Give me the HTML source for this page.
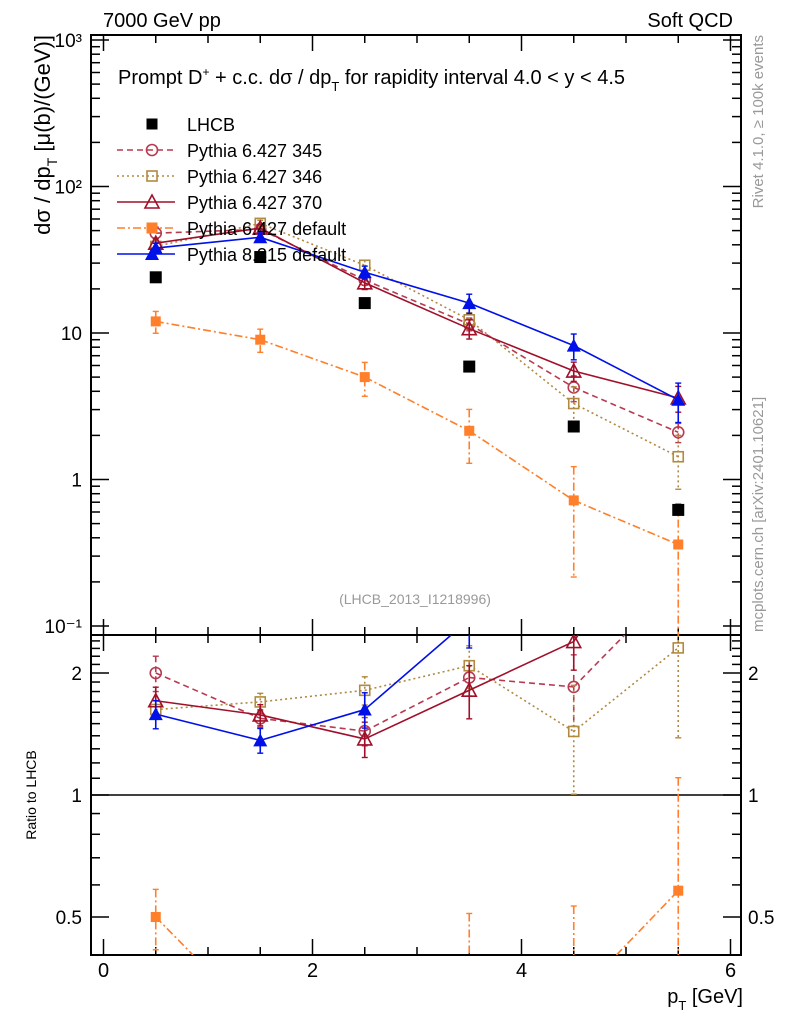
<!DOCTYPE html>
<html><head><meta charset="utf-8">
<style>
html,body{margin:0;padding:0;background:#fff;overflow:hidden;width:786px;height:1024px;}
svg{display:block;font-family:"Liberation Sans",sans-serif;}
</style></head>
<body>
<svg id="chart" width="786" height="1024" viewBox="0 0 786 1024" xmlns="http://www.w3.org/2000/svg">
  <defs>
    <clipPath id="clipMain"><rect x="91" y="35" width="650" height="600"/></clipPath>
    <clipPath id="clipRatio"><rect x="91" y="635" width="650" height="320"/></clipPath>
  </defs>
  <text x="103" y="27" font-size="20">7000 GeV pp</text>
  <text x="733" y="27" font-size="20" text-anchor="end">Soft QCD</text>
  <text x="118" y="84" font-size="20">Prompt D<tspan dy="-8" font-size="12">+</tspan><tspan dy="8"> + c.c.  dσ / dp</tspan><tspan dy="7" font-size="13">T</tspan><tspan dy="-7"> for rapidity interval 4.0 &lt; y &lt; 4.5</tspan></text>
  <text transform="translate(50,35) rotate(-90)" x="0" y="0" font-size="22" text-anchor="end">dσ / dp<tspan dy="7" font-size="14">T</tspan><tspan dy="-7"> [μ(b)/(GeV)]</tspan></text>
  <text transform="translate(36,795) rotate(-90)" font-size="14" text-anchor="middle">Ratio to LHCB</text>
  <text x="743" y="1003" font-size="20" text-anchor="end">p<tspan dy="7" font-size="13">T</tspan><tspan dy="-7"> [GeV]</tspan></text>
  <text transform="translate(763,35) rotate(-90)" font-size="15" fill="#999" text-anchor="end">Rivet 4.1.0, ≥ 100k events</text>
  <text transform="translate(763,632) rotate(-90)" font-size="15" fill="#999">mcplots.cern.ch [arXiv:2401.10621]</text>
  <text x="415" y="604" font-size="14" fill="#999" text-anchor="middle">(LHCB_2013_I1218996)</text>
  <g id="axes"></g>
  <g id="mainSeries" clip-path="url(#clipMain)"></g>
  <g id="ratioSeries" clip-path="url(#clipRatio)"></g>
  <g id="legend"></g>
</svg>
<script>
const pt = [0.5, 1.5, 2.5, 3.5, 4.5, 5.5];
const lhcb = [24, 33, 16, 5.9, 2.3, 0.62];
const p345 = [48, 51, 23, 11.5, 4.25, 2.1];
const p346 = [39, 56, 29, 12.3, 3.3, 1.43];
const p370 = [41, 52, 22, 10.7, 5.5, 3.6];
const pdef = [12, 9.0, 5.0, 2.15, 0.72, 0.36];
const p8 = [38, 45, 26, 16, 8.2, 3.5];
const relErr345 = [0.1, 0.05, 0.08, 0.1, 0.2, 0.15];
const relErr346 = [0.05, 0.05, 0.08, 0.12, 0.3, 0.4];
const relErr370 = [0.08, 0.06, 0.1, 0.15, 0.15, 0.2];
const relErrDef = [0.17, 0.18, 0.26, 0.4, 0.7, 0.9];
const relErr8 = [0.08, 0.07, 0.1, 0.15, 0.2, 0.3];
const mainTicks = ["10⁻¹", "1", "10", "10²", "10³"];
const ratioTicks = ["0.5", "1", "2"];
const xTicks = ["0", "2", "4", "6"];

const NS = "http://www.w3.org/2000/svg";
const X0 = 91, X1 = 741, MT = 35, MB = 635, RB = 955;
const xs = v => 103.5 + v * 104.5;
const clamp = (y, a, b) => Math.min(b, Math.max(a, y));
const ym = v => clamp(479.5 - 146.5 * Math.log10(v), MT - 20, MB + 20);
const yr = v => clamp(795 - 122 * Math.log2(v), MB - 20, RB + 20);
function mk(tag, at, parent) { const e = document.createElementNS(NS, tag); for (const k in at) e.setAttribute(k, at[k]); parent.appendChild(e); return e; }
const axes = document.getElementById('axes');
let f1 = mk('rect', {x: X0, y: MT, width: X1 - X0, height: MB - MT, fill: 'none', stroke: '#000', 'stroke-width': 2}, axes);


let f2 = mk('rect', {x: X0, y: MB, width: X1 - X0, height: RB - MB, fill: 'none', stroke: '#000', 'stroke-width': 2}, axes);


let ul = mk('line', {x1: X0, x2: X1, y1: yr(1), y2: yr(1), stroke: '#000', 'stroke-width': 1.5}, axes);


for (let v = 0; v <= 6.01; v += 0.5) {
  const major = Math.abs(v - Math.round(v / 2) * 2) < 1e-6;
  const L = major ? 16 : 8, x = xs(v);
  [[MT, 1], [MB, -1], [MB, 1], [RB, -1]].forEach(([y, d]) => mk('line', {x1: x, x2: x, y1: y, y2: y + d * L, stroke: '#000', 'stroke-width': 1.5}, axes));
}
xTicks.forEach(t => { const e = mk('text', {x: xs(+t), y: 977, 'font-size': 20, 'text-anchor': 'middle'}, axes); e.textContent = t;
  
   });
for (let d = -1; d <= 3; d++) {
  for (let m = 1; m <= 9; m++) {
    const v = m * Math.pow(10, d); if (v > 1000) break;
    const y = ym(v), L = m === 1 ? 18 : 9;
    mk('line', {x1: X0, x2: X0 + L, y1: y, y2: y, stroke: '#000', 'stroke-width': 1.5}, axes);
    mk('line', {x1: X1, x2: X1 - L, y1: y, y2: y, stroke: '#000', 'stroke-width': 1.5}, axes);
  }
}
mainTicks.forEach((t, i) => { const e = mk('text', {x: 82, y: ym(Math.pow(10, i - 1)) + 7, 'font-size': 19, 'text-anchor': 'end'}, axes); e.textContent = t;
  
   });
for (let v = 0.4; v <= 2.45; v += 0.1) {
  const y = 795 - 122 * Math.log2(v); if (y < MB || y > RB) continue;
  const major = [0.5, 1, 2].some(m => Math.abs(m - v) < 1e-6);
  const L = major ? 18 : 9;
  mk('line', {x1: X0, x2: X0 + L, y1: y, y2: y, stroke: '#000', 'stroke-width': 1.5}, axes);
  mk('line', {x1: X1, x2: X1 - L, y1: y, y2: y, stroke: '#000', 'stroke-width': 1.5}, axes);
}
ratioTicks.forEach(t => {
  const a = mk('text', {x: 82, y: yr(+t) + 7, 'font-size': 19, 'text-anchor': 'end'}, axes); a.textContent = t;
  
  
  const b = mk('text', {x: 748, y: yr(+t) + 7, 'font-size': 19}, axes); b.textContent = t;
  
  
});
function marker(g, type, x, y, c, s) {
  s = s || 6;
  if (type === 'fsq') return mk('rect', {x: x - s, y: y - s, width: 2 * s, height: 2 * s, fill: c}, g);
  if (type === 'osq') return mk('rect', {x: x - s + 1, y: y - s + 1, width: 2 * s - 2, height: 2 * s - 2, fill: 'none', stroke: c, 'stroke-width': 1.6}, g);
  if (type === 'oc') return mk('circle', {cx: x, cy: y, r: s - 0.5, fill: 'none', stroke: c, 'stroke-width': 1.6}, g);
  if (type === 'otri') return mk('polygon', {points: `${x},${y - s - 1} ${x - s - 1},${y + s} ${x + s + 1},${y + s}`, fill: 'none', stroke: c, 'stroke-width': 1.6}, g);
  if (type === 'ftri') return mk('polygon', {points: `${x},${y - s - 1} ${x - s - 1},${y + s} ${x + s + 1},${y + s}`, fill: c}, g);
}
const series = [
  {name: 'pythia-6427-345', label: 'Pythia 6.427 345', vals: p345, err: relErr345, c: '#b83a50', dash: '6,4', m: 'oc'},
  {name: 'pythia-6427-346', label: 'Pythia 6.427 346', vals: p346, err: relErr346, c: '#b08a40', dash: '2,3', m: 'osq'},
  {name: 'pythia-6427-370', label: 'Pythia 6.427 370', vals: p370, err: relErr370, c: '#a0102a', dash: '', m: 'otri'},
  {name: 'pythia-6427-default', label: 'Pythia 6.427 default', vals: pdef, err: relErrDef, c: '#ff7f2a', dash: '8,3,2,3', m: 'fsq'},
  {name: 'pythia-8315-default', label: 'Pythia 8.315 default', vals: p8, err: relErr8, c: '#0010e8', dash: '', m: 'ftri'}
];
const mainG = document.getElementById('mainSeries'), ratG = document.getElementById('ratioSeries');
series.forEach(s => {
  [[mainG, s.vals, 'main'], [ratG, s.vals.map((v, i) => v / lhcb[i]), 'ratio']].forEach(([par, vals, kind]) => {
    const raw = kind === 'main' ? (v => 479.5 - 146.5 * Math.log10(v)) : (v => 795 - 122 * Math.log2(v));
    const yf = kind === 'main' ? ym : yr;
    const g = mk('g', {}, par);
    
    
    // polyline with unclamped points but clipped segments computed manually
    const lo = kind === 'main' ? MT : MB, hi = kind === 'main' ? MB : RB;
    let d = '';
    for (let i = 0; i < vals.length - 1; i++) {
      let xa = xs(pt[i]), ya = raw(vals[i]), xb = xs(pt[i + 1]), yb = raw(vals[i + 1]);
      if ((ya < lo && yb < lo) || (ya > hi && yb > hi)) continue;
      const cut = (x1, y1, x2, y2, yy) => x1 + (x2 - x1) * (yy - y1) / (y2 - y1);
      if (ya < lo) { xa = cut(xa, ya, xb, yb, lo); ya = lo; } else if (ya > hi) { xa = cut(xa, ya, xb, yb, hi); ya = hi; }
      if (yb < lo) { xb = cut(xs(pt[i]), raw(vals[i]), xb, yb, lo); yb = lo; } else if (yb > hi) { xb = cut(xs(pt[i]), raw(vals[i]), xb, yb, hi); yb = hi; }
      d += `M${xa},${ya}L${xb},${yb}`;
    }
    const pl = mk('path', {d: d || 'M0,0', fill: 'none', stroke: s.c, 'stroke-width': 1.6, 'stroke-dasharray': s.dash}, g);
    
    
    vals.forEach((v, i) => {
      const x = xs(pt[i]), e = s.err[i];
      const vlo = Math.max(v * (1 - e), v * 0.05);
      mk('line', {x1: x, x2: x, y1: yf(v * (1 + e)), y2: yf(vlo), stroke: s.c, 'stroke-width': 1.6, 'stroke-dasharray': s.dash}, g);
      mk('line', {x1: x - 3, x2: x + 3, y1: yf(v * (1 + e)), y2: yf(v * (1 + e)), stroke: s.c, 'stroke-width': 1.4}, g);
      mk('line', {x1: x - 3, x2: x + 3, y1: yf(vlo), y2: yf(vlo), stroke: s.c, 'stroke-width': 1.4}, g);
      const mm = marker(g, s.m, x, yf(v), s.c, s.m === 'fsq' ? 5 : 6);
      
      
    });
  });
});
const dg = mk('g', {}, mainG);


lhcb.forEach((v, i) => {
  const m = marker(dg, 'fsq', xs(pt[i]), ym(v), '#000', 6);
  
  
});
const lg = document.getElementById('legend');
const entries = [{label: 'LHCB', c: '#000', dash: null, m: 'fsq', name: 'lhcb'}].concat(series);
entries.forEach((s, i) => {
  const y = 124 + i * 26;
  const g = mk('g', {}, lg);
  
  
  if (s.dash !== null) mk('line', {x1: 117, x2: 175, y1: y, y2: y, stroke: s.c, 'stroke-width': 1.6, 'stroke-dasharray': s.dash}, g);
  marker(g, s.m, 152, y, s.c, s.m === 'fsq' ? 5.5 : 6);
  const t = mk('text', {x: 187, y: y + 7, 'font-size': 18}, g); t.textContent = s.label;
});
</script>
</body></html>
